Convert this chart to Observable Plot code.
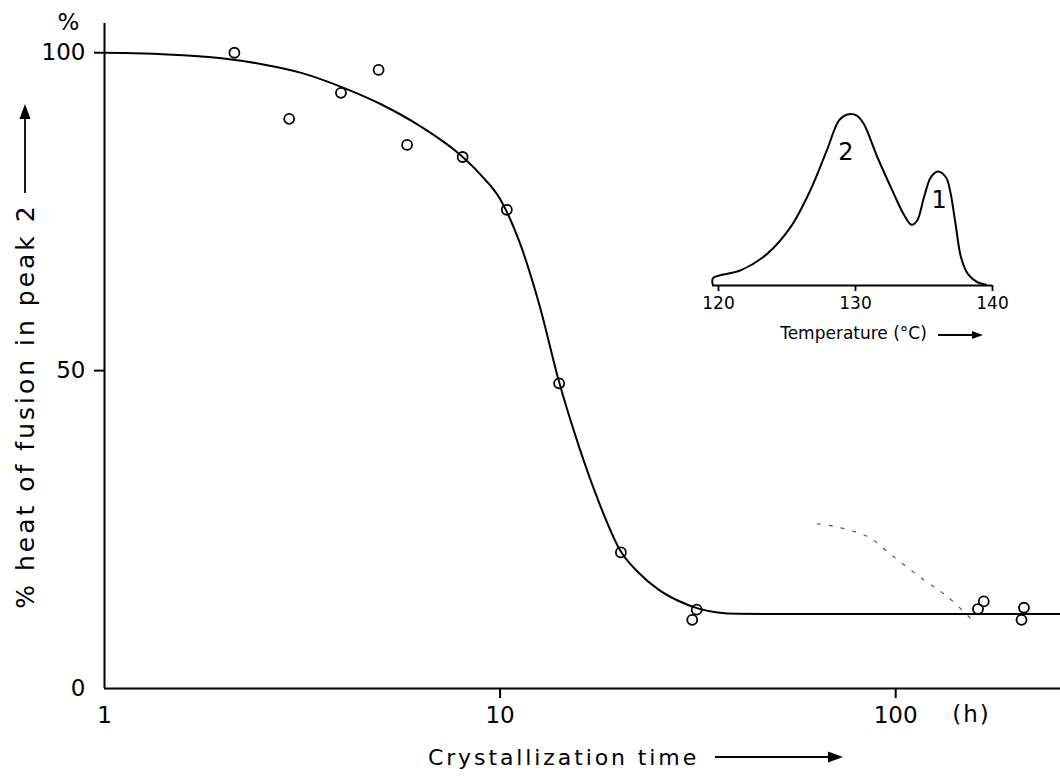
<!DOCTYPE html>
<html><head><meta charset="utf-8">
<script src="https://cdn.jsdelivr.net/npm/d3@7"></script>
<script src="https://cdn.jsdelivr.net/npm/@observablehq/plot@0.6"></script>
<style>
body{margin:0;background:#fff;}
#wrap{position:relative;width:1060px;height:779px;background:#fff;}
#inset{position:absolute;left:690px;top:90px;}
svg text{font-family:"DejaVu Sans",sans-serif;}
</style></head><body><div id="wrap"><div id="main"></div><div id="inset"></div></div>
<script>
// Measured points: crystallization time (h) vs % heat of fusion in peak 2
const times    = [2.13, 2.93, 3.96, 4.93, 5.82, 8.04, 10.4, 14.1, 20.2, 31.4, 30.6, 167, 161.5, 211, 208];
const peak2Pct = [100, 89.6, 93.7, 97.3, 85.5, 83.6, 75.3, 48.0, 21.4, 12.4, 10.8, 13.7, 12.5, 12.7, 10.8];
// Drawn fit curve
const fitTime = [1, 1.12, 1.26, 1.58, 2.0, 2.5, 3.16, 3.98, 5.0, 6.3, 7.94, 8.9, 10, 11.2, 12.6, 14.1, 15.8, 17.8, 20, 22.4, 25.1, 28.2, 31.6, 35.5, 39.8, 63, 100, 160, 261];
const fitPct  = [100, 99.97, 99.9, 99.6, 99.1, 98.2, 96.8, 94.6, 91.9, 88.4, 83.9, 80.9, 77.0, 70.2, 60.1, 48.2, 38.2, 29.2, 22.0, 18.2, 15.6, 13.8, 12.6, 11.95, 11.75, 11.7, 11.7, 11.7, 11.7];
// Faint dashed trace
const traceTime = [63.4, 70.1, 85.5, 97.1, 117.7, 134.3, 155.4];
const tracePct  = [25.9, 25.5, 23.8, 21.1, 17.1, 14.6, 10.9];
// Axis ticks
const xTickLabels = [1, 10, 100];
const xTickMarks = [10, 100];
const yTickLabels = [0, 50, 100];
const yTickMarks = [50, 100];

// Inset DSC trace
const tempC = [119.6, 119.6, 121.6, 123.55, 125.26, 126.7, 127.9, 128.8, 129.4, 130.1, 130.6, 131.6, 132.8, 133.5, 134.1, 134.5, 135.0, 135.5, 136.0, 136.6, 136.9, 137.3, 137.7, 138.2, 138.9, 139.5];
const heatFlow = [0, 4.3, 8.8, 18.5, 34.1, 55.6, 78.9, 96.5, 100, 99.4, 94.6, 75.0, 53.6, 41.9, 35.5, 38.0, 51.6, 63.3, 66.7, 63.3, 55.6, 36.1, 16.5, 6.8, 1.9, 0.6];
const insetTicks = [120, 130, 140];
const peakNames = ["2", "1"];
const peakLabelT = [129.3, 136.1];
const peakLabelH = [78, 50];

const pts = times.map((t, i) => ({t, p: peak2Pct[i]}));
const fit = fitTime.map((t, i) => ({t, p: fitPct[i]}));
const trace = traceTime.map((t, i) => ({t, p: tracePct[i]}));

const main = Plot.plot({
  width: 1060, height: 779,
  marginLeft: 104, marginRight: 0, marginTop: 23, marginBottom: 91,
  x: {type: "log", domain: [1, 261], axis: null},
  y: {domain: [0, 104.6], axis: null},
  style: {fontFamily: "DejaVu Sans", fontSize: "22px", color: "#000", background: "#fff"},
  marks: [
    Plot.ruleX([1], {stroke: "#000", strokeWidth: 2}),
    Plot.ruleY([0], {stroke: "#000", strokeWidth: 2}),
    Plot.axisX({ticks: xTickMarks, tickSize: 10, strokeWidth: 2, tickFormat: () => "", label: null}),
    Plot.axisX({ticks: xTickLabels, tickSize: 0, tickPadding: 18, fontSize: 23, tickFormat: d => String(d), label: null}),
    Plot.axisY({ticks: yTickMarks, tickSize: 10, strokeWidth: 2, tickFormat: () => "", label: null}),
    Plot.axisY({ticks: yTickLabels, tickSize: 0, tickPadding: 19, fontSize: 23, tickFormat: d => String(d), label: null}),
    Plot.line(trace, {x: "t", y: "p", stroke: "#555", strokeWidth: 1.2, strokeDasharray: "3,9", curve: "catmull-rom"}),
    Plot.line(fit, {x: "t", y: "p", stroke: "#000", strokeWidth: 2, curve: "monotone-x"}),
    Plot.dot(pts, {x: "t", y: "p", r: 5, stroke: "#000", strokeWidth: 1.8, fill: "none"}),
    Plot.text(["%"], {text: d => d, frameAnchor: "top-left", textAnchor: "middle", lineAnchor: "middle", dx: -36, dy: -1, fontSize: 23}),
    Plot.text(["(h)"], {text: d => d, frameAnchor: "bottom-right", textAnchor: "middle", lineAnchor: "middle", dx: -89, dy: 26, fontSize: 23}),
    Plot.text(["Crystallization time"], {text: d => d, frameAnchor: "bottom", textAnchor: "middle", lineAnchor: "middle", dx: -19, dy: 69, fontSize: 22}),
    Plot.text(["% heat of fusion in peak 2"], {text: d => d, frameAnchor: "left", textAnchor: "middle", lineAnchor: "middle", rotate: -90, dx: -79, dy: 50, fontSize: 25})
  ]
});
document.getElementById("main").appendChild(main);
const ms = d3.select(main);
ms.selectAll("text").filter(function(){ return this.textContent === "Crystallization time"; }).style("letter-spacing", "2.9px");
ms.selectAll("text").filter(function(){ return this.textContent === "% heat of fusion in peak 2"; }).style("letter-spacing", "3px");
ms.selectAll("text").filter(function(){ return this.textContent === "(h)"; }).style("letter-spacing", "2px");
// arrows (decorations)
function arrow(sel, x1, y1, x2, y2, head, w) {
  const dx = x2 - x1, dy = y2 - y1, L = Math.hypot(dx, dy), ux = dx / L, uy = dy / L;
  const bx = x2 - ux * head, by = y2 - uy * head;
  sel.append("line").attr("x1", x1).attr("y1", y1).attr("x2", bx).attr("y2", by).attr("stroke", "#000").attr("stroke-width", 1.8);
  sel.append("path").attr("d", `M${x2},${y2}L${bx - uy * w},${by + ux * w}L${bx + uy * w},${by - ux * w}Z`).attr("fill", "#000");
}
arrow(ms, 25, 193, 25, 104, 15, 5.5);
arrow(ms, 715, 757, 843, 757, 15, 5.5);

const dsc = tempC.map((T, i) => ({T, h: heatFlow[i]}));
const peaks = peakNames.map((n, i) => ({n, T: peakLabelT[i], h: peakLabelH[i]}));
const inset = Plot.plot({
  width: 330, height: 270,
  marginLeft: 28, marginRight: 28, marginTop: 24, marginBottom: 75,
  x: {domain: [120, 140], axis: null},
  y: {domain: [0, 100], axis: null},
  style: {fontFamily: "DejaVu Sans", fontSize: "17px", color: "#000", background: "transparent", overflow: "visible"},
  marks: [
    Plot.ruleY([0], {x1: tempC[0], x2: insetTicks[insetTicks.length - 1], stroke: "#000", strokeWidth: 1.8}),
    Plot.axisX({ticks: insetTicks, tickSize: 6, tickPadding: 5, strokeWidth: 1.8, fontSize: 17, tickFormat: d => String(d), label: null}),
    Plot.line(dsc, {x: "T", y: "h", stroke: "#000", strokeWidth: 2, curve: "catmull-rom"}),
    Plot.text(peaks, {x: "T", y: "h", text: "n", fontSize: 24}),
    Plot.text(["Temperature (°C)"], {text: d => d, frameAnchor: "bottom", textAnchor: "middle", lineAnchor: "middle", dx: -2, dy: 48, fontSize: 17})
  ]
});
document.getElementById("inset").appendChild(inset);
const is = d3.select(inset);
arrow(is, 248, 245, 293, 245, 11, 4);
</script></body></html>
